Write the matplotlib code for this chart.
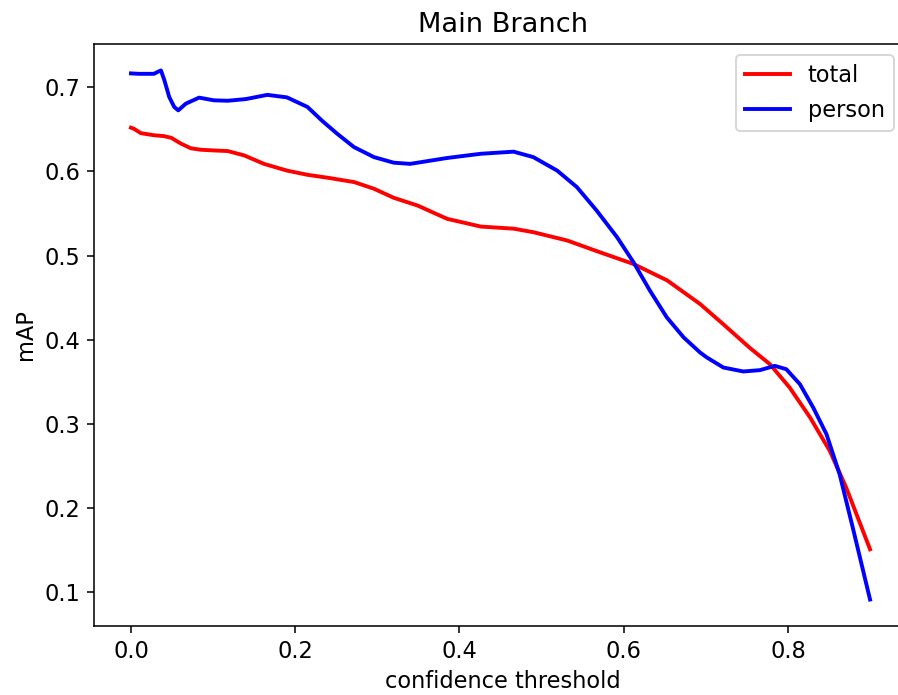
import matplotlib
matplotlib.use("Agg")
import matplotlib.pyplot as plt

# values
total_x = [0.0, 0.004, 0.012, 0.028, 0.040, 0.049, 0.061, 0.073, 0.085, 0.100,
           0.118, 0.138, 0.162, 0.190, 0.215, 0.243, 0.272, 0.296, 0.320, 0.349,
           0.385, 0.426, 0.450, 0.466, 0.490, 0.531, 0.571, 0.612, 0.653, 0.693,
           0.721, 0.754, 0.778, 0.802, 0.827, 0.851, 0.871, 0.900]
total_y = [0.652, 0.6505, 0.6455, 0.643, 0.642, 0.640, 0.633, 0.6275, 0.6258, 0.625,
           0.6242, 0.619, 0.609, 0.601, 0.596, 0.592, 0.5873, 0.5794, 0.5687, 0.5595,
           0.5437, 0.5345, 0.533, 0.532, 0.5278, 0.518, 0.504, 0.490, 0.4705, 0.4425,
           0.4187, 0.390, 0.371, 0.3433, 0.3076, 0.2679, 0.2242, 0.151]

person_x = [0.0, 0.010, 0.020, 0.028, 0.033, 0.0365, 0.0405, 0.0466, 0.0527, 0.0576,
            0.0669, 0.083, 0.101, 0.118, 0.140, 0.166, 0.190, 0.215, 0.233, 0.251,
            0.2715, 0.296, 0.320, 0.340, 0.385, 0.426, 0.450, 0.466, 0.490, 0.519,
            0.543, 0.567, 0.592, 0.612, 0.632, 0.6525, 0.673, 0.693, 0.7012, 0.7214,
            0.7457, 0.766, 0.784, 0.798, 0.8146, 0.8308, 0.847, 0.863, 0.879, 0.900]
person_y = [0.7165, 0.716, 0.716, 0.716, 0.7185, 0.720, 0.709, 0.6885, 0.6766, 0.6726,
            0.6806, 0.6877, 0.6845, 0.684, 0.686, 0.691, 0.688, 0.6766, 0.660, 0.6449,
            0.629, 0.617, 0.6104, 0.609, 0.616, 0.621, 0.6225, 0.6235, 0.617, 0.601,
            0.5814, 0.5536, 0.5218, 0.492, 0.4583, 0.4266, 0.4028, 0.3849, 0.379, 0.367,
            0.3623, 0.3639, 0.369, 0.365, 0.3472, 0.3194, 0.2877, 0.240, 0.1766, 0.0913]

plt.rcParams["font.size"] = 11.6

fig = plt.figure(figsize=(898 / 140, 695 / 140), dpi=140)
# axes run past the right edge: the reference is cropped there
left, right, top, bottom = 94, 912, 44, 626
ax = fig.add_axes([left / 898, 1 - bottom / 695, (right - left) / 898, (bottom - top) / 695])

ax.plot(total_x, total_y, color="red", linewidth=2, label="total")
ax.plot(person_x, person_y, color="blue", linewidth=2, label="person")

ax.set_xlim(-0.045, 0.945 + (912 - 907) / 822.5)
ax.set_title("Main Branch", fontsize=14)
ax.set_xlabel("confidence threshold")
ax.set_ylabel("mAP")
ax.legend(loc="upper right", bbox_to_anchor=((905 - left) / (right - left), 1))

fig.savefig("out.png", dpi=140)
